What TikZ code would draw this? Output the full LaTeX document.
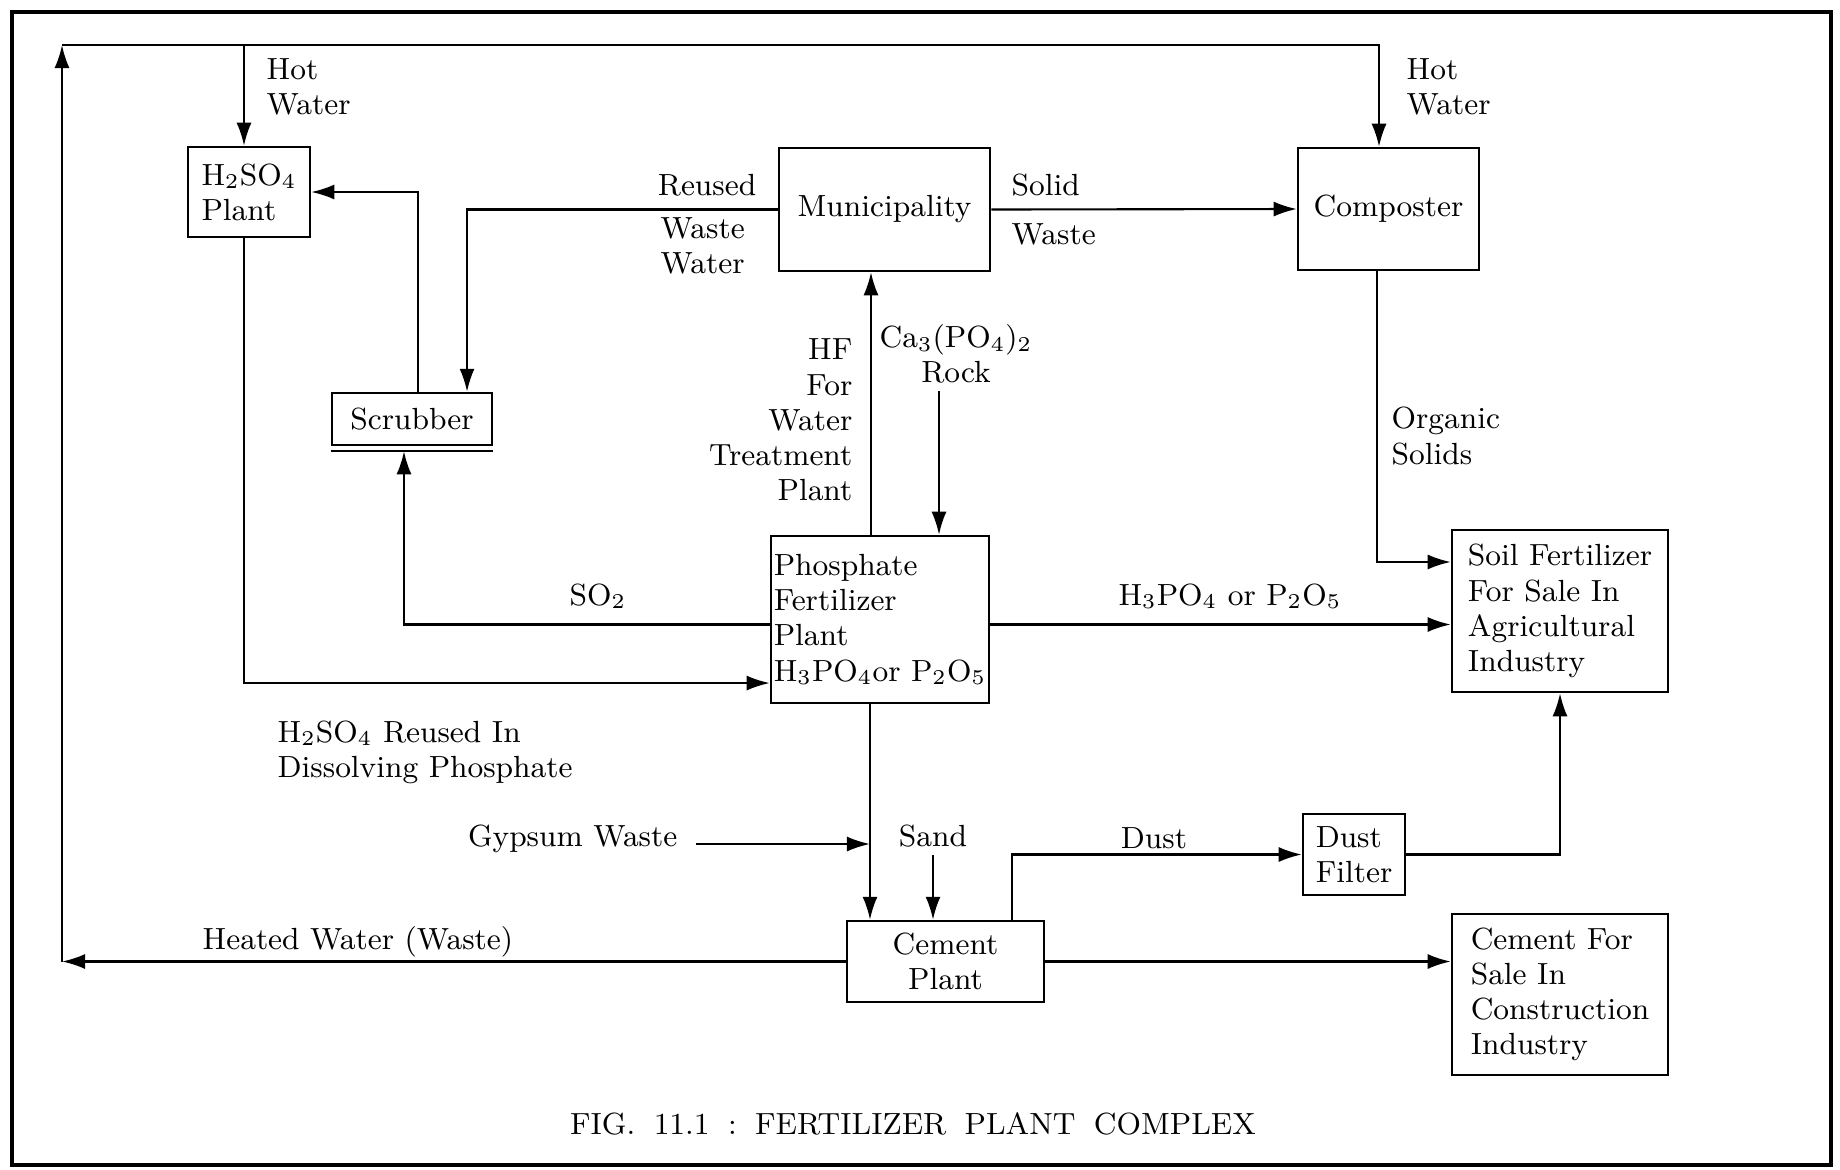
\documentclass[tikz,border=0pt]{standalone}
\usepackage{tikz}
\usetikzlibrary{arrows.meta,calc}
\tikzset{
  unit/.style={draw, line width=0.7pt, inner sep=0pt, align=center},
  flow/.style={line width=0.6pt, -{Latex[length=2.3mm,width=1.5mm]}},
  tag/.style={inner sep=0pt, align=left},
}

\begin{document}
\begin{tikzpicture}[x=0.01cm, y=-0.01cm, font=\fontsize{8.7}{10}\selectfont]
  \useasboundingbox (0,0) rectangle (1840,1169);
  \draw[line width=1.3pt] (12,12) rectangle (1831,1165);

  % plants and outlets
  \node[unit, align=left, minimum width=1.22cm, minimum height=0.90cm] (acid) at (249,192) {H$_2$SO$_4$\\Plant};
  \node[unit, minimum width=1.60cm, minimum height=0.52cm] (scrubber) at (412,419) {Scrubber};
  \node[unit, minimum width=2.11cm, minimum height=1.23cm] (municipality) at (884.5,209.5) {Municipality};
  \node[unit, minimum width=1.81cm, minimum height=1.22cm] (composter) at (1388.5,209) {Composter};
  \node[unit, align=left, minimum width=2.18cm, minimum height=1.67cm] (phosphate) at (880,619.5)
    {Phosphate\\Fertilizer\\Plant\\H$_3$PO$_4$or P$_2$O$_5$};
  \node[unit, align=left, minimum width=2.16cm, minimum height=1.62cm] (soil) at (1560,611)
    {Soil Fertilizer\\For Sale In\\Agricultural\\Industry};
  \node[unit, minimum width=1.97cm, minimum height=0.81cm] (cement) at (945.5,961.5) {Cement\\Plant};
  \node[unit, align=left, minimum width=1.02cm, minimum height=0.81cm] (dustfilter) at (1354,854.5) {Dust\\Filter};
  \node[unit, align=left, minimum width=2.16cm, minimum height=1.61cm] (cementsale) at (1560,994.5)
    {Cement For\\Sale In\\Construction\\Industry};
  \draw[line width=0.7pt] ([yshift=-0.05cm]scrubber.south west) -- ([yshift=-0.05cm]scrubber.south east);

  % labels
  \node[tag, anchor=west] (hotA) at (266,87) {Hot\\Water};
  \node[tag, anchor=west] (hotB) at (1406,87) {Hot\\Water};
  \node[tag, anchor=east] (reused) at (757,185) {Reused};
  \node[tag, anchor=west] (wastewater) at (660,246) {Waste\\Water};
  \node[tag, anchor=west] (solid) at (1011,185) {Solid};
  \node[tag, anchor=west] (solidwaste) at (1011,234) {Waste};
  \node[tag, anchor=west] (organic) at (1391,436) {Organic\\Solids};
  \node[tag, align=right, anchor=east] (hf) at (853,420) {HF\\For\\Water\\Treatment\\Plant};
  \node[tag, align=center, inner sep=2pt] (rock) at (956,354) {Ca$_3$(PO$_4$)$_2$\\Rock};
  \node[tag] (so2) at (598,596) {SO$_2$};
  \node[tag] (acidout) at (1230,596) {H$_3$PO$_4$ or P$_2$O$_5$};
  \node[tag, anchor=west] (reusedin) at (277,752) {H$_2$SO$_4$ Reused In\\Dissolving Phosphate};
  \node[tag, anchor=east] (gypsum) at (678,839) {Gypsum Waste};
  \node[tag, inner sep=2pt] (sand) at (933,836) {Sand};
  \node[tag] (dust) at (1154,838) {Dust};
  \node[tag, anchor=west] (heated) at (202,942) {Heated Water (Waste)};
  \node[tag] (caption) at (913,1124)
    {FIG.\hspace{.6em}11.1\hspace{.6em}:\hspace{.6em}FERTILIZER\hspace{.6em}PLANT\hspace{.6em}COMPLEX};

  % hot water loop
  \coordinate (loopBL) at (62,961.5);
  \coordinate (loopTL) at (62,45);
  \coordinate (loopTR) at (1379,45);
  \coordinate (loopHW) at (244,45);
  \draw[flow] (cement.west) -- (loopBL);
  \draw[flow] (loopBL) -- (loopTL);
  \draw[flow] (loopTL) -- (loopTR) -- (loopTR |- composter.north);
  \draw[flow] (loopHW) -- (loopHW |- acid.north);

  % flows
  \draw[flow] ([xshift=0.06cm]scrubber.north) |- (acid.east);
  \draw[flow] (municipality.west) -| ([xshift=0.55cm]scrubber.north);
  \draw[flow] (municipality.east) -- (composter.west);
  \draw[flow] ([xshift=-0.115cm]composter.south) |- ([yshift=0.49cm]soil.west);
  \draw[flow] ([xshift=-0.09cm]phosphate.north) -- ([xshift=-0.09cm]phosphate.north |- municipality.south);
  \draw[flow] ([xshift=-0.17cm]rock.south) -- ([xshift=-0.17cm]rock.south |- phosphate.north);
  \draw[flow] ([yshift=-0.05cm]phosphate.west) -| ([xshift=-0.08cm,yshift=-0.05cm]scrubber.south);
  \draw[flow] ([xshift=-0.05cm]acid.south) |- ([yshift=-0.635cm]phosphate.west);
  \draw[flow] ([yshift=-0.05cm]phosphate.east) -- ([yshift=-0.05cm]phosphate.east -| soil.west);
  \draw[flow] ([xshift=-0.1cm]phosphate.south) -- ([xshift=-0.1cm]phosphate.south |- cement.north);
  \coordinate (gypsumIn) at ([xshift=-0.1cm]phosphate.south |- gypsum.east);
  \draw[flow] ([xshift=0.18cm,yshift=-0.05cm]gypsum.east) -- ([yshift=-0.05cm]gypsumIn);
  \draw[flow] (sand.south) -- (sand.south |- cement.north);
  \draw[flow] ([xshift=0.665cm]cement.north) |- (dustfilter.west);
  \draw[flow] (dustfilter.east) -| (soil.south);
  \draw[flow] (cement.east) -- (cement.east -| cementsale.west);
\end{tikzpicture}
\end{document}
